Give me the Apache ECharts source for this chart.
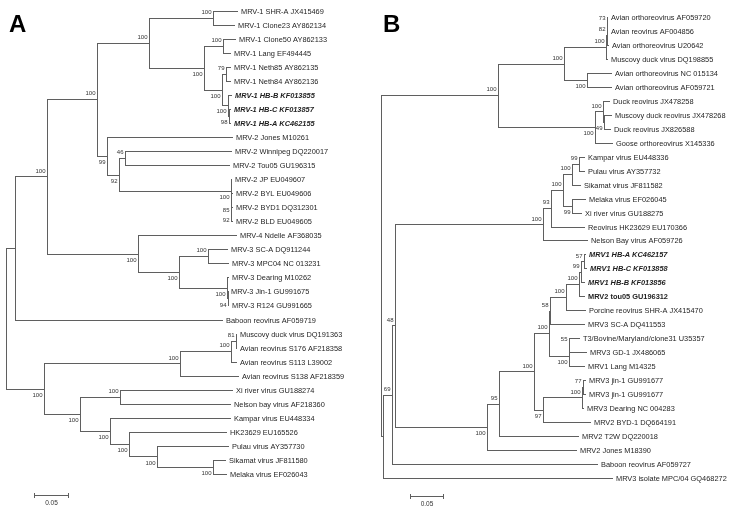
<!DOCTYPE html>
<html><head><meta charset="utf-8">
<script src="https://cdn.jsdelivr.net/npm/echarts@6/dist/echarts.min.js"></script>
<style>html,body{margin:0;padding:0;background:#fff}#c{width:750px;height:514px}</style>
</head><body><div id="c"></div>
<script>
// ---------------- DATA ----------------
// Panel A leaf names (top to bottom)
const leavesA = [
  "MRV-1 SHR-A JX415469","MRV-1 Clone23 AY862134","MRV-1 Clone50 AY862133","MRV-1 Lang EF494445",
  "MRV-1 Neth85 AY862135","MRV-1 Neth84 AY862136","MRV-1 HB-B KF013855","MRV-1 HB-C KF013857",
  "MRV-1 HB-A KC462155","MRV-2 Jones M10261","MRV-2 Winnipeg DQ220017","MRV-2 Tou05 GU196315",
  "MRV-2 JP EU049607","MRV-2 BYL EU049606","MRV-2 BYD1 DQ312301","MRV-2 BLD EU049605",
  "MRV-4 Ndelle AF368035","MRV-3 SC-A DQ911244","MRV-3 MPC04 NC 013231","MRV-3 Dearing M10262",
  "MRV-3 Jin-1 GU991675","MRV-3 R124 GU991665","Baboon reovirus AF059719","Muscovy duck virus DQ191363",
  "Avian reovirus S176 AF218358","Avian reovirus S113 L39002","Avian reovirus S138 AF218359","Xi river virus GU188274",
  "Nelson bay virus AF218360","Kampar virus EU448334","HK23629 EU165526","Pulau virus AY357730",
  "Sikamat virus JF811580","Melaka virus EF026043"
];
// Panel A clades (Newick: bootstrap:branch length; leaves in the order above)
const cladeA_MRV1 = "((:0.0378,:0.0333)100:0.0950,((:0.0191,:0.0123)100:0.0285,((:0.0072,:0.0072)79:0.0060,(:0.0056,(:0.0020,:0.0020)98:0.0021)100:0.0084)100:0.0276)100:0.0815)100:0.0785";
const cladeA_MRV2 = "(:0.1889,((:0.1610,:0.1580)46:0.0090,(:0.0015,(:0.0026,(:0.0023,:0.0023)92:0.0003)85:0.0005)100:0.1677)92:0.0174)99:0.0150";
const cladeA_MRV34 = "(:0.1483,((:0.0296,:0.0311)100:0.0425,(:0.0020,(:0.0008,:0.0015)94:0.0005)100:0.0716)100:0.0620)100:0.1366";
const cladeA_Other = "((((:0.0012,:0.0023)81:0.0075,:0.0090)100:0.0766,:0.0893)100:0.2023,((:0.1700,:0.1662)100:0.0601,(:0.1812,(:0.1467,(:0.1078,(:0.0191,:0.0206)100:0.0835)100:0.0426)100:0.0285)100:0.0450)100:0.0526)100:0.0575";
const treeA = "((((" + cladeA_MRV1 + "," + cladeA_MRV2 + ")100:0.0751," + cladeA_MRV34 + ")100:0.0476,:0.3119):0.0135," + cladeA_Other + ");";

// Panel B leaf names (top to bottom)
const leavesB = [
  "Avian orthoreovirus AF059720","Avian reovirus AF004856","Avian orthoreovirus U20642","Muscovy duck virus DQ198855",
  "Avian orthoreovirus NC 015134","Avian orthoreovirus AF059721","Duck reovirus JX478258","Muscovy duck reovirus JX478268",
  "Duck reovirus JX826588","Goose orthoreovirus X145336","Kampar virus EU448336","Pulau virus AY357732",
  "Sikamat virus JF811582","Melaka virus EF026045","Xi river virus GU188275","Reovirus HK23629 EU170366",
  "Nelson Bay virus AF059726","MRV1 HB-A KC462157","MRV1 HB-C KF013858","MRV1 HB-B KF013856",
  "MRV2 tou05 GU196312","Porcine reovirus SHR-A JX415470","MRV3 SC-A DQ411553","T3/Bovine/Maryland/clone31 U35357",
  "MRV3 GD-1 JX486065","MRV1 Lang M14325","MRV3 jin-1 GU991677","MRV3 jin-1 GU991677",
  "MRV3 Dearing NC 004283","MRV2 BYD-1 DQ664191","MRV2 T2W DQ220018","MRV2 Jones M18390",
  "Baboon reovirus AF059727","MRV3 isolate MPC/04 GQ468272"
];
const cladeB_AvianO = "((((:0.0018,:0.0018)73:0.0009,:0.0035)82:0.0011,:0.0038)100:0.0638,(:0.0394,:0.0394)100:0.0343)100:0.1009";
const cladeB_Duck = "((:0.0112,(:0.0122,:0.0107)49:0.0020)100:0.0118,:0.0275)100:0.1479";
const cladeB_Fuso = "(((((:0.0084,:0.0084)99:0.0102,:0.0133)100:0.0138,(:0.0209,:0.0148)99:0.0138)100:0.0193,:0.0517)93:0.0113,:0.0683)100:0.2268";
const cladeB_HB = "(((((:0.0023,:0.0046)57:0.0046,:0.0061)99:0.0031,:0.0092)100:0.0199,:0.0298)100:0.0245,:0.0528)58:0.0011";
const cladeB_T3 = "((:0.0168,:0.0275)55:0.0005,:0.0245)100:0.0301";
const cladeB_Jin = "(((:0.0049,:0.0049)77:0.0015,:0.0034)100:0.0596,:0.0729)97:0.0142";
const cladeB_MRV = "((((" + cladeB_HB + "," + cladeB_T3 + ")100:0.0234," + cladeB_Jin + ")100:0.0535,:0.1223)95:0.0179,:0.1372)100:0.1411";
const treeB = "((" + cladeB_AvianO + "," + cladeB_Duck + ")100:0.1798,(((" + cladeB_Fuso + "," + cladeB_MRV + ")48:0.0041,:0.3145)69:0.0147,:0.3521):0.0031);";

const scaleBarValue = 0.05;
const scaleBarText = "0.05";
const panelLetters = ["A", "B"];

// ---------------- STYLE / LAYOUT ----------------
const boldItalic = new Set(["MRV-1 HB-B KF013855","MRV-1 HB-C KF013857","MRV-1 HB-A KC462155",
  "MRV1 HB-A KC462157","MRV1 HB-C KF013858","MRV1 HB-B KF013856"]);
const boldOnly = new Set(["MRV2 tou05 GU196312"]);
const FONT = 'Arial, "Liberation Sans", Helvetica, sans-serif';
const LINE = '#5f5f5f';
const TEXT = '#1e1e1e';
const panels = [
  {tree: treeA, names: leavesA, grid: {left: 6, top: 10.5, width: 300, height: 463.5}, pxPerUnit: 668, bar: [0.0424, 34.5]},
  {tree: treeB, names: leavesB, grid: {left: 380.7, top: 17.3, width: 300, height: 460.3}, pxPerUnit: 654, bar: [0.0448, 34.3]}
];

function parseNewick(str, names) {
  let i = 0, leafIdx = 0;
  function node() {
    const n = {children: []};
    if (str[i] === '(') {
      i++;
      n.children.push(node());
      while (str[i] === ',') { i++; n.children.push(node()); }
      i++;
    }
    let label = '';
    while (i < str.length && !':,();'.includes(str[i])) label += str[i++];
    n.len = 0;
    if (str[i] === ':') {
      i++; let num = '';
      while (i < str.length && !',();'.includes(str[i])) num += str[i++];
      n.len = parseFloat(num);
    }
    if (!n.children.length) { n.index = leafIdx; n.name = names[leafIdx]; leafIdx++; }
    else n.support = label;
    return n;
  }
  return node();
}

function layoutTree(root) {
  const segs = [], leaves = [], supports = [];
  function walk(n, px, first, isRoot) {
    n.x = isRoot ? 0 : px + n.len;
    if (!n.children.length) {
      n.y = n.index;
      leaves.push({x: n.x, y: n.y, name: n.name});
    } else {
      n.children.forEach((c, k) => walk(c, n.x, k === 0, false));
      const a = n.children[0].y, b = n.children[n.children.length - 1].y;
      n.y = (a + b) / 2;
      segs.push([n.x, a, n.x, b]);
      if (n.support) supports.push({x: n.x, y: n.y, text: n.support, above: first});
    }
    if (!isRoot) segs.push([px, n.y, n.x, n.y]);
  }
  walk(root, 0, true, true);
  return {segs, leaves, supports};
}

const grids = [], xAxes = [], yAxes = [], series = [];
panels.forEach((p, k) => {
  const t = layoutTree(parseNewick(p.tree, p.names));
  grids.push(Object.assign({containLabel: false}, p.grid));
  xAxes.push({type: 'value', gridIndex: k, min: 0, max: p.grid.width / p.pxPerUnit, show: false});
  yAxes.push({type: 'value', gridIndex: k, min: 0, max: p.names.length - 1, inverse: true, show: false});
  const crisp = v => Math.round(v) + 0.5;
  series.push({
    type: 'custom', xAxisIndex: k, yAxisIndex: k, clip: false, silent: true,
    encode: {x: [0, 2], y: [1, 3]},
    data: t.segs,
    renderItem: (params, api) => {
      const p1 = api.coord([api.value(0), api.value(1)]);
      const p2 = api.coord([api.value(2), api.value(3)]);
      let x1 = p1[0], y1 = p1[1], x2 = p2[0], y2 = p2[1];
      if (Math.abs(y1 - y2) < 0.01) { y1 = y2 = crisp(y1); x1 = Math.round(x1); x2 = Math.round(x2); }
      else { x1 = x2 = crisp(x1); y1 = Math.round(y1); y2 = Math.round(y2); }
      return {type: 'line', shape: {x1, y1, x2, y2}, style: {stroke: LINE, lineWidth: 1}};
    }
  });
  series.push({
    type: 'custom', xAxisIndex: k, yAxisIndex: k, clip: false, silent: true,
    encode: {x: 0, y: 1},
    data: t.leaves.map(l => [l.x, l.y]),
    renderItem: (params, api) => {
      const l = t.leaves[params.dataIndex];
      const pt = api.coord([api.value(0), api.value(1)]);
      return {type: 'text', x: Math.round(pt[0]) + 3, y: Math.round(pt[1]) + 0.5,
        style: {text: l.name, fontSize: 7.4, fontFamily: FONT, fill: TEXT,
          fontWeight: (boldItalic.has(l.name) || boldOnly.has(l.name)) ? 'bold' : 'normal',
          fontStyle: boldItalic.has(l.name) ? 'italic' : 'normal',
          align: 'left', verticalAlign: 'middle'}};
    }
  });
  series.push({
    type: 'custom', xAxisIndex: k, yAxisIndex: k, clip: false, silent: true,
    encode: {x: 0, y: 1},
    data: t.supports.map(s => [s.x, s.y]),
    renderItem: (params, api) => {
      const s = t.supports[params.dataIndex];
      const pt = api.coord([api.value(0), api.value(1)]);
      return {type: 'text', x: Math.round(pt[0]) - 1.5, y: pt[1] + (s.above ? -5.5 : 6.5),
        style: {text: s.text, fontSize: 6, fontFamily: FONT, fill: '#333',
          align: 'right', verticalAlign: 'middle'}};
    }
  });
  series.push({
    type: 'custom', xAxisIndex: k, yAxisIndex: k, clip: false, silent: true,
    encode: {x: [0, 2], y: 1},
    data: [[p.bar[0], p.bar[1], p.bar[0] + scaleBarValue]],
    renderItem: (params, api) => {
      const a = api.coord([api.value(0), api.value(1)]);
      const b = api.coord([api.value(2), api.value(1)]);
      const y = Math.round(a[1]) + 0.5;
      const x1 = Math.round(a[0]) + 0.5, x2 = Math.round(b[0]) + 0.5;
      return {type: 'group', children: [
        {type: 'line', shape: {x1, y1: y, x2, y2: y}, style: {stroke: LINE, lineWidth: 1}},
        {type: 'line', shape: {x1, y1: y - 2.5, x2: x1, y2: y + 2.5}, style: {stroke: LINE, lineWidth: 1}},
        {type: 'line', shape: {x1: x2, y1: y - 2.5, x2, y2: y + 2.5}, style: {stroke: LINE, lineWidth: 1}},
        {type: 'text', x: (x1 + x2) / 2, y: y + 7.5, style: {text: scaleBarText, fontSize: 6.5, fontFamily: FONT, fill: '#333', align: 'center', verticalAlign: 'middle'}}
      ]};
    }
  });
});

const chart = echarts.init(document.getElementById('c'), null, {renderer: 'canvas'});
chart.setOption({
  animation: false,
  backgroundColor: '#fff',
  title: [
    {text: panelLetters[0], left: 4, top: 8, textStyle: {fontSize: 24, fontWeight: 'bold', fontFamily: FONT, color: '#000'}},
    {text: panelLetters[1], left: 378, top: 8, textStyle: {fontSize: 24, fontWeight: 'bold', fontFamily: FONT, color: '#000'}}
  ],
  grid: grids, xAxis: xAxes, yAxis: yAxes, series: series
});
</script></body></html>
